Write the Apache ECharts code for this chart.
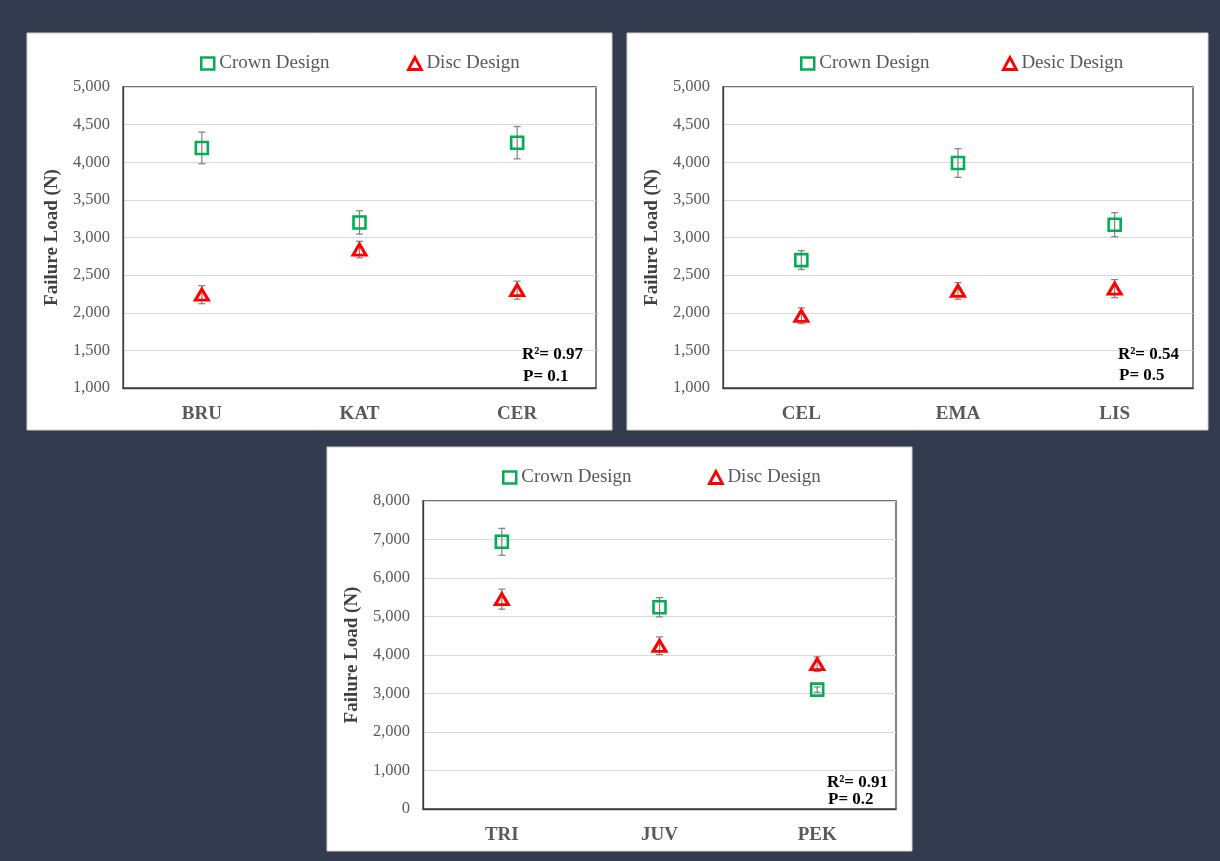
<!DOCTYPE html>
<html>
<head>
<meta charset="utf-8">
<script src="https://cdn.jsdelivr.net/npm/echarts@6/dist/echarts.min.js"></script>
<style>
  html, body { margin: 0; padding: 0; background: #323c4e; }
  #chart { width: 1220px; height: 861px; }
</style>
</head>
<body>
<div id="chart"></div>
<script>
// Failure load (N) of three design groups, crown vs disc, mean ± SD
const catsA = ['BRU', 'KAT', 'CER'];
const crownA = [4190, 3200, 4260];
const crownErrA = [210, 155, 215];
const discA = [2240, 2840, 2300];
const discErrA = [120, 110, 120];

const catsB = ['CEL', 'EMA', 'LIS'];
const crownB = [2700, 3990, 3170];
const crownErrB = [125, 190, 160];
const discB = [1960, 2290, 2320];
const discErrB = [105, 110, 120];

const catsC = ['TRI', 'JUV', 'PEK'];
const crownC = [6940, 5240, 3100];
const crownErrC = [350, 250, 70];
const discC = [5450, 4240, 3760];
const discErrC = [260, 230, 190];

const statsA = ['R²= 0.97', 'P= 0.1'];
const statsB = ['R²= 0.54', 'P= 0.5'];
const statsC = ['R²= 0.91', 'P= 0.2'];

const crownName = 'Crown Design';
const discName = 'Disc Design';
const discNameB = 'Desic Design';

const SERIF = '"Liberation Serif", "Times New Roman", serif';
const GREEN = '#00b050';
const RED = '#ff0000';
const GREY = '#595959';

function errData(vals, errs) {
  return vals.map((v, i) => [i, v - errs[i], v + errs[i]]);
}

function renderErr(params, api) {
  const x = api.value(0);
  const top = api.coord([x, api.value(2)]);
  const bot = api.coord([x, api.value(1)]);
  const cap = 3.5;
  const st = { stroke: '#7f7f7f', lineWidth: 1.2 };
  return {
    type: 'group',
    children: [
      { type: 'line', shape: { x1: top[0], y1: top[1], x2: bot[0], y2: bot[1] }, style: st },
      { type: 'line', shape: { x1: top[0] - cap, y1: top[1], x2: top[0] + cap, y2: top[1] }, style: st },
      { type: 'line', shape: { x1: bot[0] - cap, y1: bot[1], x2: bot[0] + cap, y2: bot[1] }, style: st }
    ]
  };
}

function errSeries(vals, errs, idx) {
  return {
    type: 'custom', xAxisIndex: idx, yAxisIndex: idx, z: 3,
    renderItem: renderErr, encode: { x: 0, y: [1, 2] },
    data: errData(vals, errs), silent: true
  };
}

function crownSeries(vals, idx) {
  return {
    name: crownName, type: 'scatter', xAxisIndex: idx, yAxisIndex: idx, z: 4,
    symbol: 'rect', symbolSize: 12,
    itemStyle: { color: 'rgba(255,255,255,0)', borderColor: GREEN, borderWidth: 2.6, opacity: 1 },
    data: vals
  };
}

function discSeries(name, vals, idx) {
  return {
    name: name, type: 'scatter', xAxisIndex: idx, yAxisIndex: idx, z: 4,
    symbol: 'triangle', symbolSize: [13, 11],
    itemStyle: { color: 'rgba(255,255,255,0)', borderColor: RED, borderWidth: 3, opacity: 1 },
    data: vals
  };
}

function xAxisFor(cats, idx) {
  return {
    type: 'category', gridIndex: idx, data: cats, boundaryGap: true,
    axisTick: { show: false },
    axisLine: { show: true, lineStyle: { color: '#404040', width: 1.3 } },
    axisLabel: { margin: 17, color: GREY, fontFamily: SERIF, fontWeight: 'bold', fontSize: 19 }
  };
}

function yAxisFor(min, max, step, idx) {
  return {
    type: 'value', gridIndex: idx, min: min, max: max, interval: step,
    name: 'Failure Load (N)', nameLocation: 'middle', nameGap: 61, nameRotate: 90,
    nameTextStyle: { fontFamily: SERIF, fontWeight: 'bold', fontSize: 19, color: '#404040' },
    axisLine: { show: true, lineStyle: { color: '#404040', width: 1.3 } },
    axisTick: { show: false },
    splitLine: { show: true, lineStyle: { color: '#d9d9d9', width: 1 } },
    axisLabel: {
      margin: 13, color: GREY, fontFamily: SERIF, fontSize: 16.5,
      formatter: v => v.toLocaleString('en-US')
    }
  };
}

function legendItem(name, isCrown, left, top) {
  return {
    left: left, top: top, padding: 0, itemWidth: 13, itemHeight: 12,
    textStyle: { fontFamily: SERIF, fontSize: 19, color: GREY },
    selectedMode: false,
    data: [isCrown
      ? { name: name, icon: 'rect', itemStyle: { color: '#ffffff', borderColor: GREEN, borderWidth: 2.5 } }
      : { name: name, icon: 'triangle', itemStyle: { color: '#ffffff', borderColor: RED, borderWidth: 2.8 } }]
  };
}

function panel(x, y, w, h) {
  return {
    type: 'rect', z: -10, silent: true,
    shape: { x: x, y: y, width: w, height: h },
    style: { fill: '#ffffff', stroke: '#d0d0d0', lineWidth: 1 }
  };
}

function statText(lines, x, y, gap) {
  return lines.map((t, i) => ({
    type: 'text', z: 10, silent: true, x: x + (i ? 1 : 0), y: y + i * gap,
    style: { text: t, font: 'bold 17px ' + SERIF, fill: '#000000', textVerticalAlign: 'middle' }
  }));
}

const gridBox = { show: true, borderColor: '#404040', borderWidth: 1.3, backgroundColor: 'transparent', containLabel: false };

const option = {
  backgroundColor: '#323c4e',
  animation: false,
  grid: [
    Object.assign({ left: 123, top: 87, width: 473, height: 301 }, gridBox),
    Object.assign({ left: 723, top: 87, width: 470, height: 301 }, gridBox),
    Object.assign({ left: 423, top: 501, width: 473, height: 308 }, gridBox)
  ],
  xAxis: [xAxisFor(catsA, 0), xAxisFor(catsB, 1), xAxisFor(catsC, 2)],
  yAxis: [yAxisFor(1000, 5000, 500, 0), yAxisFor(1000, 5000, 500, 1), yAxisFor(0, 8000, 1000, 2)],
  legend: [
    legendItem(crownName, true, 200, 54),
    legendItem(discName, false, 407, 54),
    legendItem(crownName, true, 800, 54),
    legendItem(discNameB, false, 1002, 54),
    legendItem(crownName, true, 502, 468),
    legendItem(discName, false, 708, 468)
  ],
  graphic: [
    panel(27, 33, 585, 397),
    panel(627, 33, 581, 397),
    panel(327, 447, 585, 404)
  ].concat(
    statText(statsA, 522, 355, 22),
    statText(statsB, 1118, 355, 21),
    statText(statsC, 827, 783, 17)
  ),
  series: [
    errSeries(crownA, crownErrA, 0), errSeries(discA, discErrA, 0),
    crownSeries(crownA, 0), discSeries(discName, discA, 0),
    errSeries(crownB, crownErrB, 1), errSeries(discB, discErrB, 1),
    crownSeries(crownB, 1), discSeries(discNameB, discB, 1),
    errSeries(crownC, crownErrC, 2), errSeries(discC, discErrC, 2),
    crownSeries(crownC, 2), discSeries(discName, discC, 2)
  ]
};

const chart = echarts.init(document.getElementById('chart'), null, { renderer: 'canvas' });
chart.setOption(option);
</script>
</body>
</html>
